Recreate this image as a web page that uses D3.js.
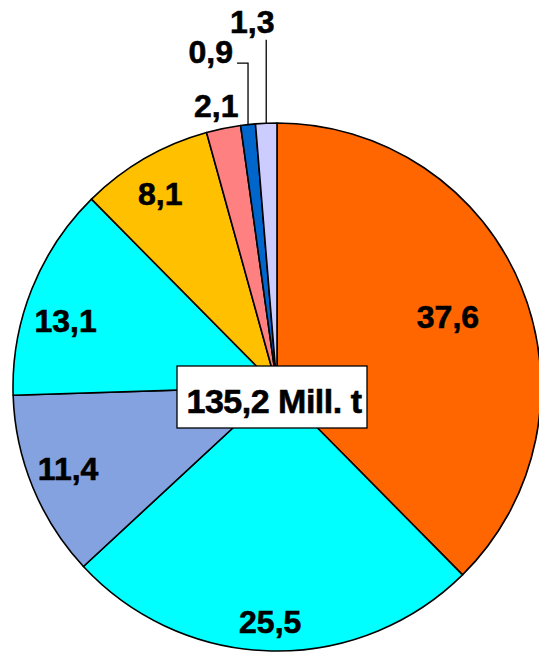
<!DOCTYPE html>
<html>
<head>
<meta charset="utf-8">
<script src="https://cdn.jsdelivr.net/npm/d3@7"></script>
<style>
	html, body { margin: 0; padding: 0; background: #fff; }
	svg { display: block; }
	text { font-family: "Liberation Sans", Arial, sans-serif; font-weight: bold; fill: #000; stroke: #000; stroke-width: 0.6px; }
</style>
</head>
<body>
<svg id="chart" width="539" height="652"></svg>
<script>

// shares in %, clockwise from 12 o'clock
var values = [ 37.6, 25.5, 11.4, 13.1, 8.1, 2.1, 0.9, 1.3 ];
var labels = [ "37,6", "25,5", "11,4", "13,1", "8,1", "2,1", "0,9", "1,3" ];
var colors = [ "#ff6600", "#00ffff", "#85a2e0", "#00ffff", "#ffc000", "#ff8080", "#0066cc", "#ccccff" ];
var total = "135,2 Mill. t";

function draw()	{

	var svg = d3.select("#chart");
	var [ cx, cy, R ] = [ 277, 387, 264 ];
	var fs = 32;

	// label placement: distance (fraction of R) and angle nudge (deg); null = leader line
	var labelR = [ 0.70, 0.89, 0.85, 0.84, 0.855, 1.09, null, null ];
	var labelA = [ 0, 0.4, 0.9, -4.2, -1.1, -0.5, 0, 0 ];
	var leader = { 6: { top: 1.227, dx: -11 }, 7: { top: 1.315, dx: 0 } };

	var pie = d3.pie().sort(null).value(d => d)
		.startAngle(0).endAngle(2 * Math.PI);
	var arcs = pie(values);
	var arc = d3.arc().innerRadius(0).outerRadius(R);

	var g = svg.append("g").attr("transform", `translate(${cx}, ${cy})`);

	g.selectAll("path")
		.data(arcs)
		.join("path")
		.attr("d", arc)
		.attr("fill", (d,i) => colors[i])
		.attr("stroke", "#000")
		.attr("stroke-width", 1.6)
		.attr("stroke-linejoin", "round");

	function polar(a, r)	{
		return [ Math.sin(a) * r, -Math.cos(a) * r ];
	}

	arcs.forEach((d, i) => {

		var mid = (d.startAngle + d.endAngle) / 2;

		if(labelR[i] !== null)	{
			var [x, y] = polar(mid + labelA[i] * Math.PI / 180, labelR[i] * R);
			g.append("text")
				.attr("x", x).attr("y", y)
				.attr("dy", "0.36em")
				.attr("text-anchor", "middle")
				.attr("font-size", fs)
				.text(labels[i]);
			return;
		}

		var l = leader[i];
		var [ex, ey] = polar(mid, R);
		var ty = -l.top * R;
		var pts = [ [ex, ey], [ex, ty] ];
		if(l.dx !== 0)
			pts.push([ex + l.dx, ty]);

		g.append("path")
			.attr("d", d3.line()(pts))
			.attr("fill", "none")
			.attr("stroke", "#000")
			.attr("stroke-width", 1.3);

		var t = g.append("text").attr("font-size", fs).text(labels[i]);
		if(l.dx !== 0)
			t.attr("x", ex + l.dx - 4).attr("y", ty).attr("text-anchor", "end");
		else
			t.attr("x", ex - 14).attr("y", ty - 7).attr("text-anchor", "middle");

	});

	// total box
	var box = g.append("g").attr("transform", "translate(-5, 10)");
	box.append("rect")
		.attr("x", -95).attr("y", -31)
		.attr("width", 190).attr("height", 62)
		.attr("fill", "#fff")
		.attr("stroke", "#000")
		.attr("stroke-width", 1.3);
	box.append("text")
		.attr("x", 2).attr("y", 16)
		.attr("text-anchor", "middle")
		.attr("font-size", 34)
		.attr("letter-spacing", -0.5)
		.text(total);

}

draw();

</script>
</body>
</html>
